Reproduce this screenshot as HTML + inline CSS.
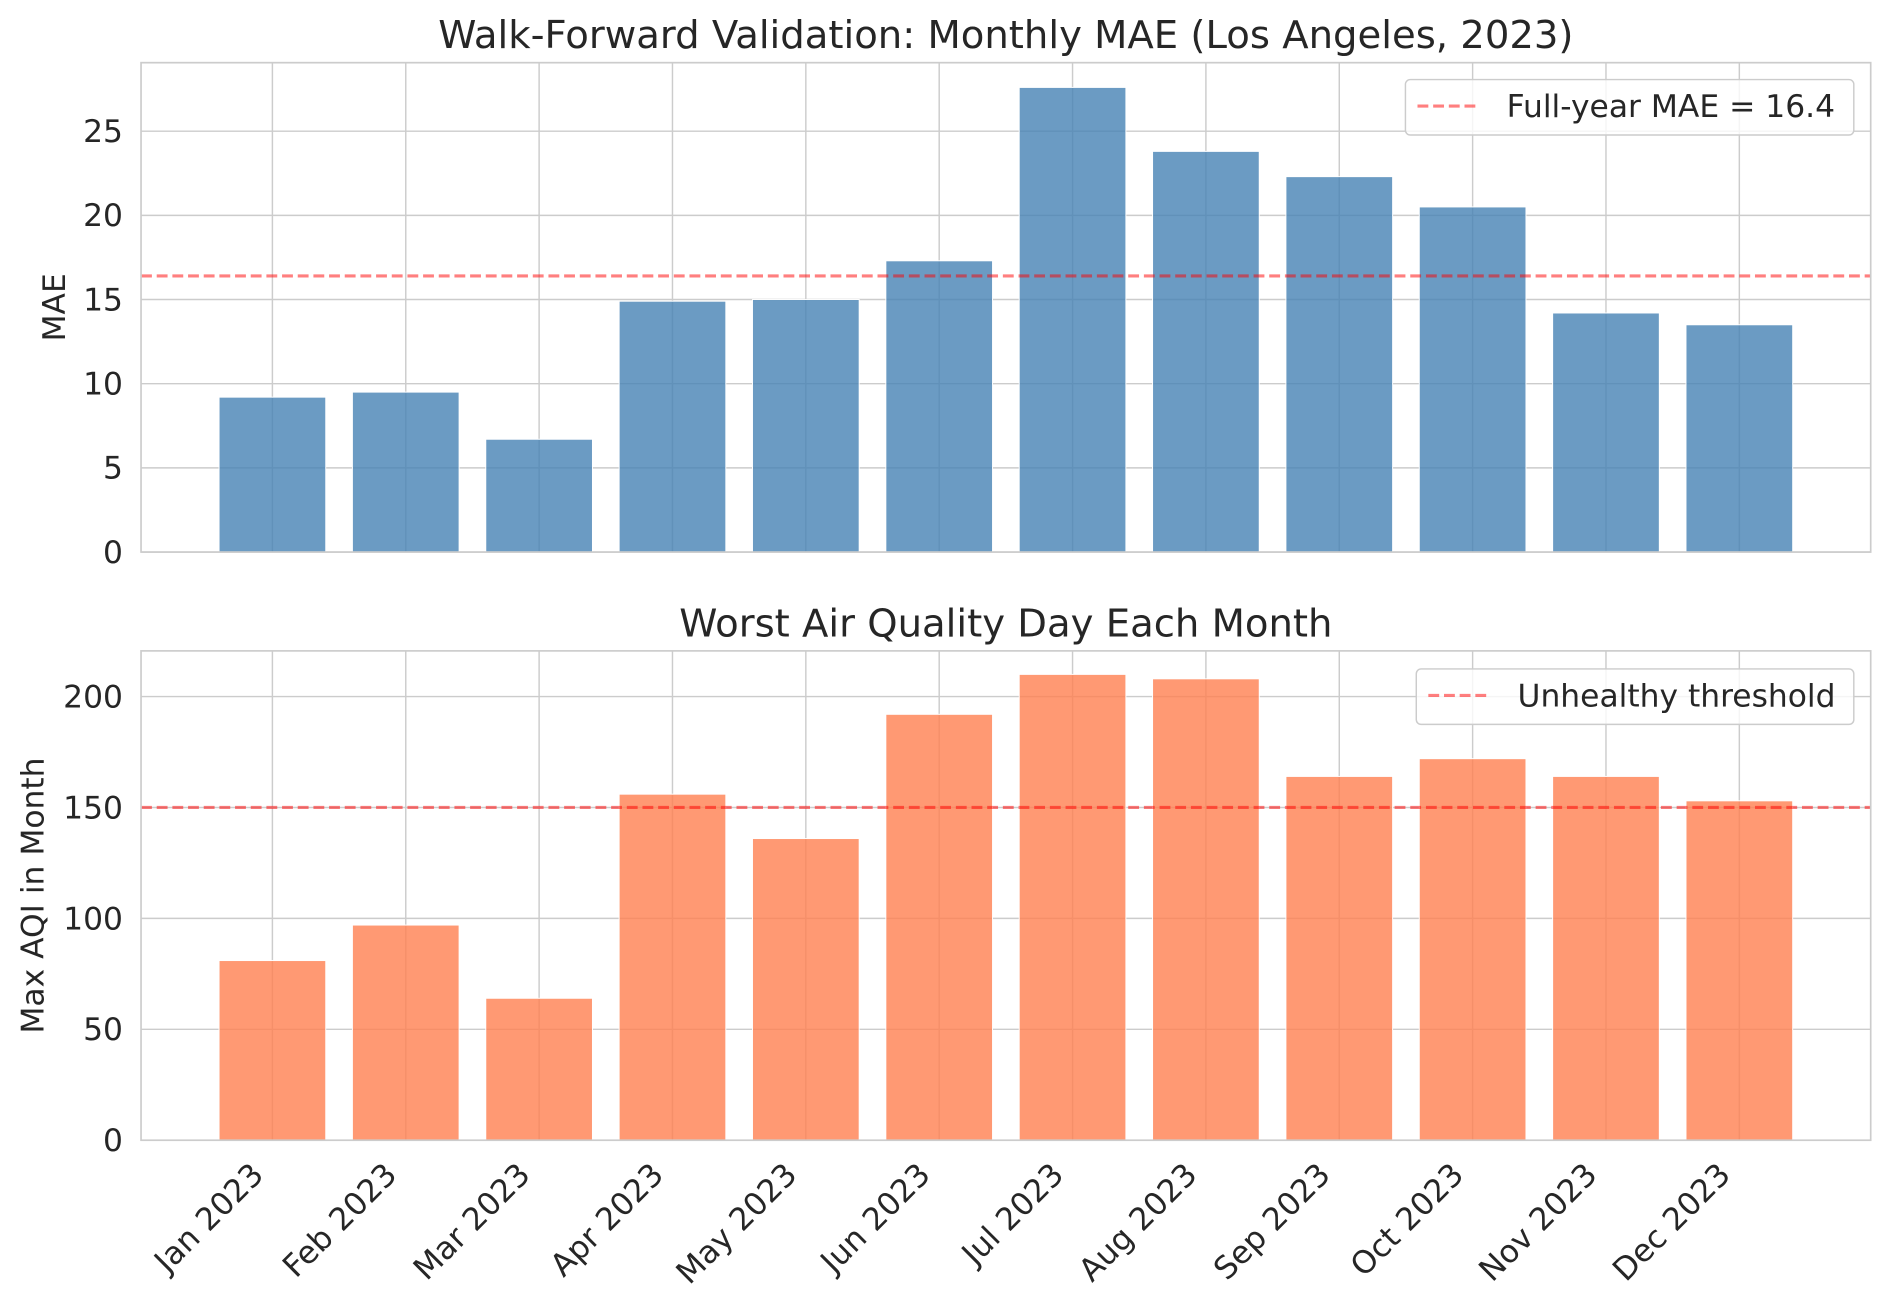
<!DOCTYPE html>
<html><head><meta charset="utf-8"><style>
html,body{margin:0;padding:0;background:#fff;}
svg{display:block;font-family:"DejaVu Sans","Liberation Sans",sans-serif;}
</style></head><body>
<svg id="chart" width="1890" height="1312" viewBox="0 0 1568 1088.5" xmlns="http://www.w3.org/2000/svg"></svg>
<script>
const months = ["Jan 2023","Feb 2023","Mar 2023","Apr 2023","May 2023","Jun 2023","Jul 2023","Aug 2023","Sep 2023","Oct 2023","Nov 2023","Dec 2023"];
const maeValues = [9.2,9.5,6.7,14.9,15.0,17.3,27.6,23.8,22.3,20.5,14.2,13.5];
const aqiValues = [81,97,64,156,136,192,210,208,164,172,164,153];
const maeTicks = [0,5,10,15,20,25];
const aqiTicks = [0,50,100,150,200];
const fullYearMae = 16.4;
const unhealthyThreshold = 150;

const svg = document.getElementById('chart');
const NS = 'http://www.w3.org/2000/svg';
function mk(tag, attrs, parent){const e=document.createElementNS(NS,tag);for(const k in attrs)e.setAttribute(k,attrs[k]);(parent||svg).appendChild(e);return e;}
const L=117,R=1552,xmin=-0.985,xmax=11.985;
const xs=v=>L+(v-xmin)/(xmax-xmin)*(R-L);
const TF=26, TT=32;

function panel(cfg){
  const g=mk('g',{});
  
  
  const ys=v=>cfg.bot-(v-0)/(cfg.ymax)*(cfg.bot-cfg.top);
  months.forEach((m,i)=>{const l=mk('line',{x1:xs(i),x2:xs(i),y1:cfg.top,y2:cfg.bot,stroke:'#cccccc','stroke-width':1.2},g);
    });
  cfg.ticks.forEach(t=>{const l=mk('line',{x1:L,x2:R,y1:ys(t),y2:ys(t),stroke:'#cccccc','stroke-width':1.2},g);
    
    const tx=mk('text',{x:L-15,y:ys(t)+9,'text-anchor':'end','font-size':TF,fill:'#262626'},g);tx.textContent=t;
    });
  cfg.values.forEach((v,i)=>{const b=mk('rect',{x:xs(i-0.4),y:ys(v),width:xs(i+0.4)-xs(i-0.4),height:ys(0)-ys(v),fill:cfg.color,stroke:'#ffffff','stroke-width':0.8},g);
    });
  const rl=mk('line',{x1:L,x2:R,y1:ys(cfg.ref),y2:ys(cfg.ref),stroke:'rgba(255,0,0,0.5)','stroke-width':2.6,'stroke-dasharray':'9,4'},g);
  
  const fr=mk('rect',{x:L,y:cfg.top,width:R-L,height:cfg.bot-cfg.top,fill:'none',stroke:'#cccccc','stroke-width':1.4},g);
  
  const ti=mk('text',{x:(L+R)/2,y:cfg.top-12,'text-anchor':'middle','font-size':TT,fill:'#262626'},g);ti.textContent=cfg.title;
  
  const yl=mk('text',{x:0,y:0,'text-anchor':'middle','font-size':TF,fill:'#262626',transform:`translate(${cfg.ylx},${(cfg.top+cfg.bot)/2}) rotate(-90)`},g);yl.textContent=cfg.ylabel;
  
  const lg=mk('g',{},g);
  mk('rect',{x:cfg.lx,y:cfg.ly,width:1538-cfg.lx,height:46,rx:4,fill:'rgba(255,255,255,0.8)',stroke:'#cccccc','stroke-width':1.2},lg);
  mk('line',{x1:cfg.lx+10,x2:cfg.lx+58,y1:cfg.ly+22,y2:cfg.ly+22,stroke:'rgba(255,0,0,0.5)','stroke-width':2.6,'stroke-dasharray':'9,4'},lg);
  const lt=mk('text',{x:cfg.lx+84,y:cfg.ly+31,'font-size':TF,fill:'#262626'},lg);lt.textContent=cfg.legend;
  
  return ys;
}
panel({name:'mae-panel',top:52,bot:458,ymax:29.07,ticks:maeTicks,values:maeValues,color:'rgba(70,130,180,0.8)',ref:fullYearMae,
  title:'Walk-Forward Validation: Monthly MAE (Los Angeles, 2023)',ylabel:'MAE',ylx:54,lx:1166,ly:66,legend:'Full-year MAE = 16.4'});
panel({name:'aqi-panel',top:540,bot:946,ymax:220.6,ticks:aqiTicks,values:aqiValues,color:'rgba(255,127,80,0.8)',ref:unhealthyThreshold,
  title:'Worst Air Quality Day Each Month',ylabel:'Max AQI in Month',ylx:36,lx:1175,ly:555,legend:'Unhealthy threshold'});
months.forEach((m,i)=>{const x=xs(i)-6,y=958;
  const t=mk('text',{x:0,y:0,'text-anchor':'end','font-size':TF,fill:'#262626',transform:`translate(${x},${y+18}) rotate(-45)`});t.textContent=m;
  });
</script>
</body></html>
